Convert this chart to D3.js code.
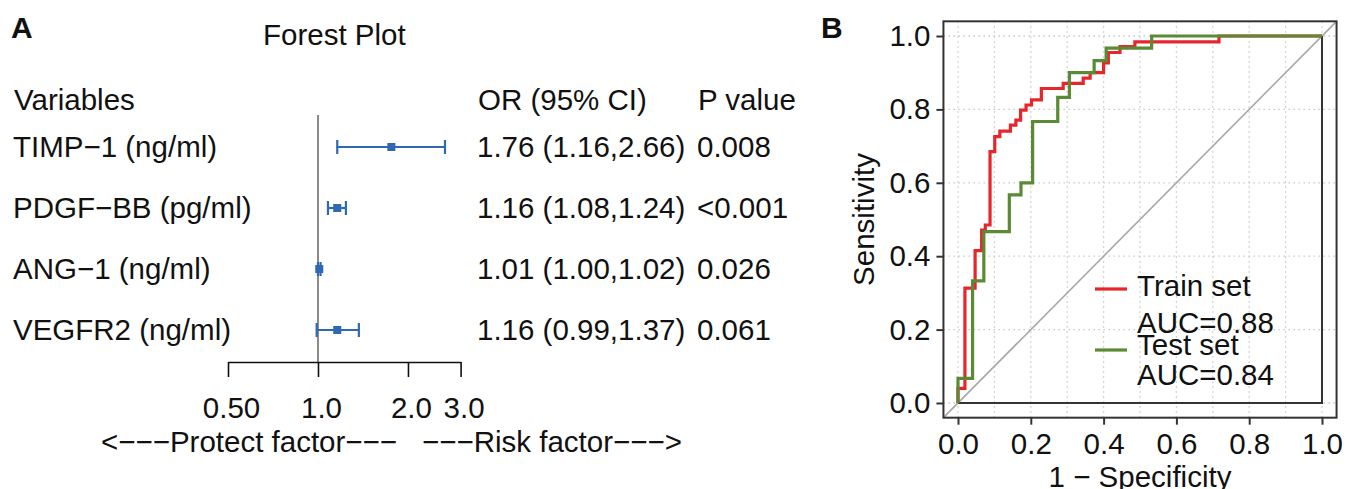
<!DOCTYPE html>
<html>
<head>
<meta charset="utf-8">
<script src="https://cdn.jsdelivr.net/npm/d3@7"></script>
<style>
  body { margin: 0; background: #fff; }
  text { font-family: "Liberation Sans", Arial, Helvetica, sans-serif; fill: #111; }
</style>
</head>
<body>
<script>
const W = 1347, H = 489;
const FONT = 29.5;

// forest plot data
const variables = ["TIMP−1 (ng/ml)", "PDGF−BB (pg/ml)", "ANG−1 (ng/ml)", "VEGFR2 (ng/ml)"];
const oddsRatio = [1.76, 1.16, 1.01, 1.16];
const ciLower = [1.16, 1.08, 1.00, 0.99];
const ciUpper = [2.66, 1.24, 1.02, 1.37];
const pValues = ["0.008", "<0.001", "0.026", "0.061"];
const forestTicks = [0.5, 1, 2, 3];
const forestTickLabels = ["0.50", "1.0", "2.0", "3.0"];

// roc data (1 - specificity, sensitivity) - corners of the staircase
const trainFpr = [0, 0, 0.019, 0.047, 0.065, 0.075, 0.088, 0.101, 0.115, 0.144, 0.159, 0.172, 0.187, 0.202, 0.229, 0.289, 0.344, 0.363, 0.400, 0.413, 0.445, 0.486, 0.717, 1];
const trainTpr = [0, 0.040, 0.313, 0.415, 0.471, 0.485, 0.685, 0.726, 0.741, 0.757, 0.771, 0.798, 0.812, 0.826, 0.857, 0.871, 0.885, 0.900, 0.927, 0.955, 0.971, 0.984, 1, 1];
const testFpr = [0, 0, 0.040, 0.071, 0.141, 0.173, 0.205, 0.274, 0.306, 0.374, 0.407, 0.532, 1];
const testTpr = [0, 0.067, 0.333, 0.467, 0.567, 0.600, 0.767, 0.833, 0.900, 0.933, 0.967, 1, 1];
const rocTicks = [0, 0.2, 0.4, 0.6, 0.8, 1.0];
const legendNames = ["Train set", "Test set"];
const legendAuc = ["AUC=0.88", "AUC=0.84"];

const svg = d3.select("body").append("svg").attr("width", W).attr("height", H);

// ---------------- panel A : forest plot ----------------
const fx = d3.scaleLog().base(2).domain([0.5, 3]).range([228, 460.6]);
const rowY = d3.scaleLinear().domain([0, 1]).range([147, 208]);
const blue = "#2f68b3";

svg.append("text").attr("x", 11).attr("y", 38).attr("font-size", 30).attr("font-weight", "bold").text("A");
svg.append("text").attr("x", 263).attr("y", 45).attr("font-size", FONT).text("Forest Plot");

// headers
svg.append("text").attr("x", 14).attr("y", 110).attr("font-size", FONT).text("Variables");
svg.append("text").attr("x", 478).attr("y", 110).attr("font-size", FONT).text("OR (95% CI)");
svg.append("text").attr("x", 698).attr("y", 110).attr("font-size", FONT).text("P value");

const rows = svg.append("g").selectAll("g").data(variables).join("g");
rows.append("text").attr("x", 13).attr("y", (d, i) => rowY(i) + 10).attr("font-size", FONT).text(d => d);
rows.append("text").attr("x", 477).attr("y", (d, i) => rowY(i) + 10).attr("font-size", FONT)
  .text((d, i) => oddsRatio[i].toFixed(2) + " (" + ciLower[i].toFixed(2) + "," + ciUpper[i].toFixed(2) + ")");
rows.append("text").attr("x", 697).attr("y", (d, i) => rowY(i) + 10).attr("font-size", FONT).text((d, i) => pValues[i]);

// reference line at OR = 1
svg.append("line").attr("x1", fx(1)).attr("x2", fx(1)).attr("y1", 115).attr("y2", 362)
  .attr("stroke", "#8a8a8a").attr("stroke-width", 2);

// error bars
const bars = svg.append("g").attr("stroke", blue).attr("stroke-width", 2.2);
variables.forEach((v, i) => {
  const y = rowY(i);
  bars.append("line").attr("x1", fx(ciLower[i])).attr("x2", fx(ciUpper[i])).attr("y1", y).attr("y2", y);
  bars.append("line").attr("x1", fx(ciLower[i])).attr("x2", fx(ciLower[i])).attr("y1", y - 7).attr("y2", y + 7);
  bars.append("line").attr("x1", fx(ciUpper[i])).attr("x2", fx(ciUpper[i])).attr("y1", y - 7).attr("y2", y + 7);
  bars.append("rect").attr("x", fx(oddsRatio[i]) - 4).attr("y", y - 4).attr("width", 8).attr("height", 8)
    .attr("fill", blue).attr("stroke", "none");
});

// x axis
const fAxis = svg.append("g").attr("transform", "translate(0,362)")
  .call(d3.axisBottom(fx).tickValues(forestTicks).tickFormat((d, i) => forestTickLabels[i])
    .tickSize(15).tickSizeOuter(0).tickPadding(20));
fAxis.selectAll("path, line").attr("stroke", "#111").attr("stroke-width", 1.6);
fAxis.selectAll("text").attr("font-size", FONT).attr("font-family", null).attr("fill", "#111").attr("dx", 3);

svg.append("text").attr("x", 397).attr("y", 452).attr("font-size", FONT).attr("text-anchor", "end")
  .text("<−−−Protect factor−−−");
svg.append("text").attr("x", 422).attr("y", 452).attr("font-size", FONT)
  .text("−−−Risk factor−−−>");

// ---------------- panel B : ROC ----------------
const rx = d3.scaleLinear().domain([0, 1]).range([958, 1322]);
const ry = d3.scaleLinear().domain([0, 1]).range([403, 36]);
const box = { x0: rx(-0.04), x1: rx(1.04), y0: ry(1.04), y1: ry(-0.04) };

svg.append("text").attr("x", 821).attr("y", 38).attr("font-size", 30).attr("font-weight", "bold").text("B");

// grid
const grid = svg.append("g").attr("stroke", "#c8c8c8").attr("stroke-width", 1.3).attr("stroke-dasharray", "1.5,3.5");
grid.selectAll("line.v").data(d3.range(0, 11).map(d => d / 10)).join("line")
  .attr("x1", d => rx(d)).attr("x2", d => rx(d)).attr("y1", box.y0).attr("y2", box.y1);
grid.selectAll("line.h").data(rocTicks).join("line")
  .attr("x1", box.x0).attr("x2", box.x1).attr("y1", d => ry(d)).attr("y2", d => ry(d));

// diagonal
svg.append("line").attr("x1", rx(-0.04)).attr("y1", ry(-0.04)).attr("x2", rx(1.04)).attr("y2", ry(1.04))
  .attr("stroke", "#a8a8a8").attr("stroke-width", 1.6);

// frame lines at specificity limits
svg.append("path").attr("d", d3.line()([[rx(0), ry(0)], [rx(1), ry(0)], [rx(1), ry(1)]]))
  .attr("fill", "none").attr("stroke", "#333").attr("stroke-width", 2);

const roc = d3.line().x(d => rx(d[0])).y(d => ry(d[1])).curve(d3.curveStepAfter);
svg.append("path").datum(d3.zip(trainFpr, trainTpr)).attr("d", roc)
  .attr("fill", "none").attr("stroke", "#e5262b").attr("stroke-width", 3.2);
svg.append("path").datum(d3.zip(testFpr, testTpr)).attr("d", roc)
  .attr("fill", "none").attr("stroke", "#5a8a34").attr("stroke-width", 3.2);

// box
svg.append("rect").attr("x", box.x0).attr("y", box.y0).attr("width", box.x1 - box.x0).attr("height", box.y1 - box.y0)
  .attr("fill", "none").attr("stroke", "#333").attr("stroke-width", 2);

// axes
const yAxis = svg.append("g").attr("transform", "translate(" + box.x0 + ",0)")
  .call(d3.axisLeft(ry).tickValues(rocTicks).tickFormat(d3.format(".1f")).tickSize(7).tickPadding(6));
const xAxis = svg.append("g").attr("transform", "translate(0," + box.y1 + ")")
  .call(d3.axisBottom(rx).tickValues(rocTicks).tickFormat(d3.format(".1f")).tickSize(7).tickPadding(8));
[yAxis, xAxis].forEach(a => {
  a.select(".domain").remove();
  a.selectAll("line").attr("stroke", "#333").attr("stroke-width", 2);
  a.selectAll("text").attr("font-size", FONT).attr("font-family", null).attr("fill", "#111");
});

svg.append("text").attr("transform", "translate(874," + ry(0.5) + ") rotate(-90)")
  .attr("text-anchor", "middle").attr("font-size", FONT).text("Sensitivity");
svg.append("text").attr("x", rx(0.5)).attr("y", 487).attr("text-anchor", "middle").attr("font-size", FONT)
  .text("1 − Specificity");

// legend
const legendColors = ["#e5262b", "#5a8a34"];
const legendLineY = [289, 350];
const nameY = [296, 355];
const aucY = [333, 385];
legendNames.forEach((n, i) => {
  svg.append("line").attr("x1", 1095).attr("x2", 1127).attr("y1", legendLineY[i]).attr("y2", legendLineY[i])
    .attr("stroke", legendColors[i]).attr("stroke-width", 3.2);
  svg.append("text").attr("x", 1137).attr("y", nameY[i]).attr("font-size", FONT).text(n);
  svg.append("text").attr("x", 1137).attr("y", aucY[i]).attr("font-size", FONT).text(legendAuc[i]);
});
</script>
</body>
</html>
